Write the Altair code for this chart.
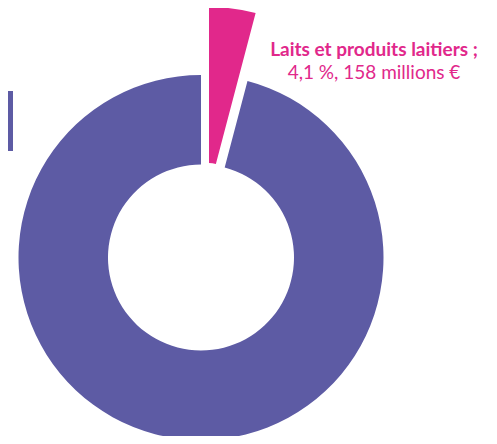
import altair as alt
import pandas as pd

categories = ["Laits et produits laitiers", "Autres produits"]
shares = [4.1, 95.9]
amounts = [158, None]
colors = ["#e1288b", "#5d5ba4"]

df = pd.DataFrame({
    "category": categories,
    "share": shares,
    "amount": amounts,
    "order": list(range(len(categories))),
})

def fmt_share(v):
    return f"{v:.1f}".replace(".", ",")

df["line1"] = [f"{c} ;" for c in categories]
df["line2"] = [
    f"{fmt_share(s)} %, {a:.0f} millions €" if a is not None and a == a else ""
    for s, a in zip(shares, amounts)
]

base = (
    alt.Chart(df)
    .transform_window(cum="sum(share)", sort=[alt.SortField("order")], frame=[None, 0])
    .transform_joinaggregate(total="sum(share)")
    .transform_calculate(
        t1="2*PI*(datum.cum-datum.share)/datum.total",
        t2="2*PI*datum.cum/datum.total",
    )
)

CX, CY = 193, 249.5

purple = (
    base.transform_filter(alt.datum.category == categories[1])
    .mark_arc(innerRadius=93, outerRadius=182.5, x=CX, y=CY, color=colors[1])
    .encode(theta=alt.Theta("t1:Q", scale=None), theta2="t2:Q")
)

pink = (
    base.transform_filter(alt.datum.category == categories[0])
    .mark_arc(innerRadius=27, outerRadius=183, x=CX + 8, y=CY - 67.5, color=colors[0])
    .encode(theta=alt.Theta("t1:Q", scale=None), theta2="t2:Q")
)

label1 = (
    alt.Chart(df)
    .transform_filter(alt.datum.category == categories[0])
    .mark_text(x=366, y=48, align="center", baseline="alphabetic",
               font="Lato", fontSize=19, fontWeight="bold", color=colors[0])
    .encode(text="line1:N")
)
label2 = (
    alt.Chart(df)
    .transform_filter(alt.datum.category == categories[0])
    .mark_text(x=366, y=71, align="center", baseline="alphabetic",
               font="Lato", fontSize=19, color=colors[0])
    .encode(text="line2:N")
)

edge = (
    alt.Chart(df)
    .transform_filter(alt.datum.category == categories[1])
    .mark_rect(color=colors[1])
    .encode(x=alt.value(0), x2=alt.value(5), y=alt.value(83), y2=alt.value(143))
)

chart = (
    alt.layer(purple, pink, label1, label2, edge)
    .properties(width=481, height=428, padding=0, autosize=alt.AutoSizeParams(type="none"))
    .configure_view(stroke=None)
)

chart.save("out.html", embed_options={"renderer": "svg", "actions": False})
